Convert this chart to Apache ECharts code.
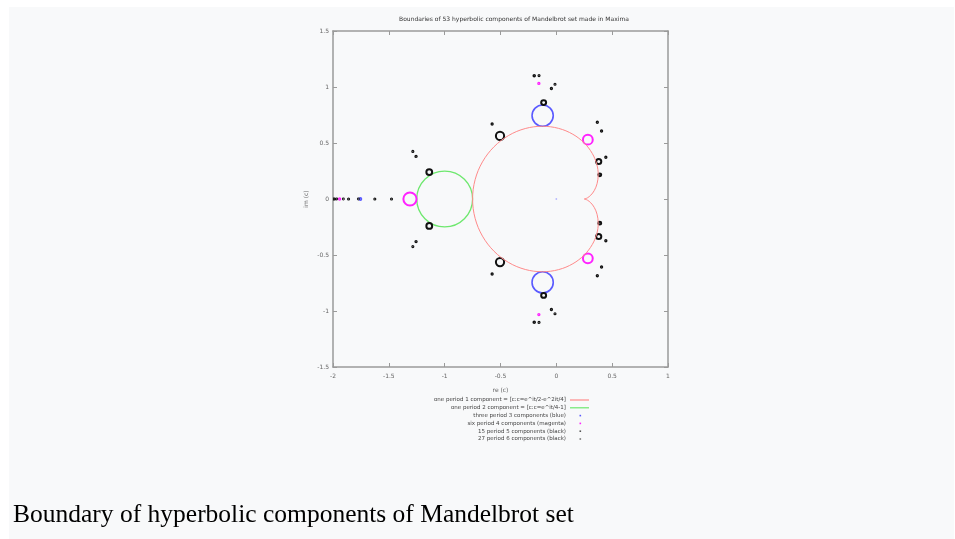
<!DOCTYPE html>
<html>
<head>
<meta charset="utf-8">
<script src="https://cdn.jsdelivr.net/npm/echarts@6/dist/echarts.min.js"></script>
<style>
html,body{margin:0;padding:0;background:#ffffff;}
#chart{width:955px;height:539px;}
</style>
</head>
<body>
<div id="chart"></div>
<script>
// ---- data ----
const chartTitle = 'Boundaries of 53 hyperbolic components of Mandelbrot set made in Maxima';
const caption = 'Boundary of hyperbolic components of Mandelbrot set';
const xTicks = [-2, -1.5, -1, -0.5, 0, 0.5, 1];
const yTicks = [-1.5, -1, -0.5, 0, 0.5, 1, 1.5];
const legendNames = [
  'one period 1 component = [c:c=e^it/2-e^2it/4]',
  'one period 2 component = [c:c=e^it/4-1]',
  'three period 3 components (blue)',
  'six period 4 components (magenta)',
  '15 period 5 components (black)',
  '27 period 6 components (black)'
];
// period 1: main cardioid boundary points [re, im]
const cardioidRe = [0.25,0.25748,0.27834,0.30801,0.33961,0.36480,0.375,0.36252,0.32174,0.25,0.14810,0.02050,-0.125,-0.27798,-0.42643,-0.55801,-0.66136,-0.72732,-0.75,
  -0.72732,-0.66136,-0.55801,-0.42643,-0.27798,-0.125,0.02050,0.14810,0.25,0.32174,0.36252,0.375,0.36480,0.33961,0.30801,0.27834,0.25748,0.25];
const cardioidIm = [0,0.00132,0.01031,0.03349,0.07519,0.13682,0.21651,0.30915,0.40690,0.5,0.57791,0.63055,0.64952,0.62922,0.56759,0.46651,0.33171,0.17233,0,
  -0.17233,-0.33171,-0.46651,-0.56759,-0.62922,-0.64952,-0.63055,-0.57791,-0.5,-0.40690,-0.30915,-0.21651,-0.13682,-0.07519,-0.03349,-0.01031,-0.00132,0];
// components as [centre re, centre im, radius]
const period2 = [[-1, 0, 0.25]];
const period3 = [[-0.1226, 0.7449, 0.095], [-0.1226, -0.7449, 0.095], [-1.7549, 0, 0.010]];
const period4 = [[0.2822, 0.5301, 0.044], [0.2822, -0.5301, 0.044], [-1.3107, 0, 0.059],
  [-1.9408, 0, 0.006], [-0.1565, 1.0323, 0.006], [-0.1565, -1.0323, 0.006]];
const period5 = [[0.3795, 0.3348, 0.023], [0.3795, -0.3348, 0.023], [-0.5043, 0.5628, 0.037], [-0.5043, -0.5628, 0.037],
  [-0.198, 1.1002, 0.007], [-0.198, -1.1002, 0.007], [-0.0442, 0.9865, 0.006], [-0.0442, -0.9865, 0.006],
  [0.367, 0.685, 0.006], [0.367, -0.685, 0.006], [-1.2564, 0.3803, 0.006], [-1.2564, -0.3803, 0.006],
  [-1.9854, 0, 0.005], [-1.8607, 0, 0.005], [-1.6254, 0, 0.005]];
const period6 = [[0.389, 0.2158, 0.013], [0.389, -0.2158, 0.013], [0.4433, 0.3729, 0.006], [0.4433, -0.3729, 0.006],
  [-0.1136, 0.8607, 0.022], [-0.1136, -0.8607, 0.022], [-1.138, 0.2403, 0.026], [-1.138, -0.2403, 0.026],
  [-0.575, 0.67, 0.006], [-0.575, -0.67, 0.006], [0.405, 0.607, 0.006], [0.405, -0.607, 0.006],
  [-0.155, 1.102, 0.005], [-0.155, -1.102, 0.005], [-0.012, 1.025, 0.005], [-0.012, -1.025, 0.005],
  [-1.285, 0.425, 0.005], [-1.285, -0.425, 0.005],
  [-1.9964, 0, 0.004], [-1.9668, 0, 0.004], [-1.9073, 0, 0.004], [-1.7729, 0, 0.004], [-1.476, 0, 0.005]];
const centrePoint = [[0, 0]];

// ---- styles ----
const colRed = '#ff8a8a', colGreen = '#6ee86e', colBlue = '#5a5aff', colMag = '#ff22ff', colBlack = '#111111';
const frameCol = '#9a9a9a', tickTextCol = '#666666';

function circleSeries(name, data, color, width) {
  return {
    type: 'custom', name: name, data: data, coordinateSystem: 'cartesian2d',
    encode: { x: 0, y: 1 }, clip: true, silent: true,
    renderItem: function (params, api) {
      const c = api.coord([api.value(0), api.value(1)]);
      const s = api.size([api.value(2), api.value(2)]);
      return { type: 'circle', shape: { cx: c[0], cy: c[1], r: s[0] },
        style: { fill: 'none', stroke: color, lineWidth: width } };
    }
  };
}

const chart = echarts.init(document.getElementById('chart'), null, { renderer: 'canvas' });

const legendX = 566, legendY0 = 400, legendDy = 7.8;
const legendCols = [colRed, colGreen, colBlue, colMag, '#555555', '#777777'];
const legendGraphics = [];
legendNames.forEach(function (n, i) {
  const y = legendY0 + i * legendDy;
  legendGraphics.push({ type: 'text', x: legendX, y: y, style: { text: n, fontSize: 5.5, fontFamily: 'DejaVu Sans', fill: '#444', align: 'right', verticalAlign: 'middle' } });
  if (i < 2) {
    legendGraphics.push({ type: 'line', shape: { x1: 570, y1: y, x2: 589, y2: y }, style: { stroke: legendCols[i], lineWidth: 1.2 } });
  } else {
    legendGraphics.push({ type: 'rect', shape: { x: 579.5, y: y - 0.8, width: 1.6, height: 1.6 }, style: { fill: legendCols[i] } });
  }
});

const axisCommon = {
  type: 'value', splitLine: { show: false },
  axisLine: { show: true, onZero: false, lineStyle: { color: frameCol, width: 1.5 } },
  axisTick: { show: true, inside: true, length: 4, lineStyle: { color: frameCol, width: 1 } }
};

chart.setOption({
  animation: false,
  backgroundColor: '#ffffff',
  title: [{
    text: chartTitle, left: 514, top: 16, textAlign: 'center', padding: 0,
    textStyle: { fontSize: 6, fontWeight: 'normal', color: '#333', fontFamily: 'DejaVu Sans' }
  }, {
    text: caption, left: 13, top: 502, padding: 0,
    textStyle: { fontSize: 25.5, fontWeight: 'normal', color: '#000', fontFamily: 'Liberation Serif' }
  }],
  grid: { left: 333, top: 31, width: 335, height: 336, containLabel: false },
  xAxis: [
    Object.assign({}, axisCommon, {
      min: xTicks[0], max: xTicks[xTicks.length - 1], interval: 0.5, position: 'bottom',
      name: 're (c)', nameLocation: 'middle', nameGap: 20,
      nameTextStyle: { fontSize: 6, color: tickTextCol, fontFamily: 'DejaVu Sans' },
      axisLabel: { fontSize: 6, color: tickTextCol, margin: 6, fontFamily: 'DejaVu Sans' }
    }),
    Object.assign({}, axisCommon, {
      min: xTicks[0], max: xTicks[xTicks.length - 1], interval: 0.5, position: 'top',
      axisLabel: { show: false }
    })
  ],
  yAxis: [
    Object.assign({}, axisCommon, {
      min: yTicks[0], max: yTicks[yTicks.length - 1], interval: 0.5, position: 'left',
      name: 'im (c)', nameLocation: 'middle', nameGap: 24, nameRotate: 90,
      nameTextStyle: { fontSize: 6, color: tickTextCol, fontFamily: 'DejaVu Sans' },
      axisLabel: { fontSize: 6, color: tickTextCol, margin: 4, fontFamily: 'DejaVu Sans' }
    }),
    Object.assign({}, axisCommon, {
      min: yTicks[0], max: yTicks[yTicks.length - 1], interval: 0.5, position: 'right',
      axisLabel: { show: false }
    })
  ],
  graphic: [{
    type: 'rect', z: -10, silent: true, shape: { x: 9, y: 7, width: 945, height: 532 }, style: { fill: '#f8f9fa' }
  }].concat(legendGraphics),
  series: [
    {
      type: 'line', name: legendNames[0], data: cardioidRe.map(function (r, i) { return [r, cardioidIm[i]]; }),
      symbol: 'none', smooth: 0.35, lineStyle: { color: colRed, width: 1 }, silent: true
    },
    circleSeries(legendNames[1], period2, colGreen, 1.3),
    circleSeries(legendNames[2], period3, colBlue, 1.6),
    circleSeries(legendNames[3], period4, colMag, 2),
    circleSeries(legendNames[4], period5, colBlack, 2),
    circleSeries(legendNames[5], period6, colBlack, 2),
    { type: 'scatter', name: 'centre', data: centrePoint, symbol: 'rect', symbolSize: 1.5, itemStyle: { color: '#9999ff' }, silent: true }
  ]
});
</script>
</body>
</html>
